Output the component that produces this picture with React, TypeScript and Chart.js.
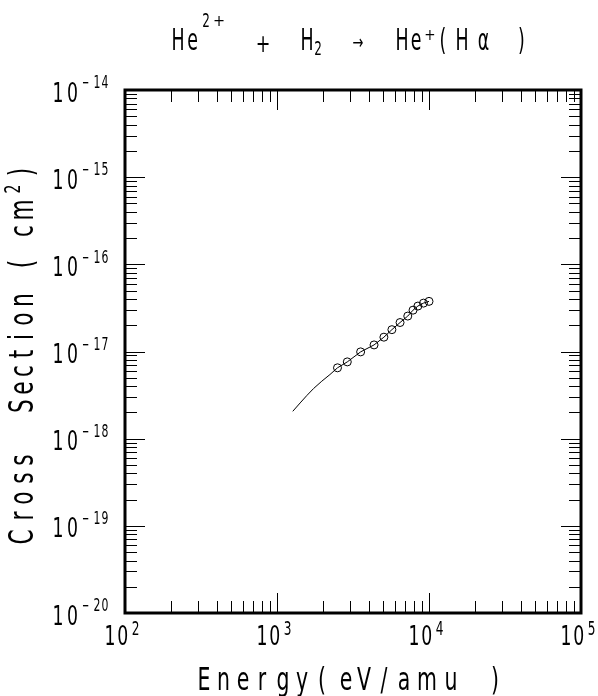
import React, { useEffect, useRef } from "react";
import { Chart, registerables } from "chart.js";

Chart.register(...registerables);

// Fitted curve (energy in eV/amu, cross section in cm^2)
const lineEnergy = [1270, 1420, 1570, 1740, 1970, 2230, 2500, 2900, 3550, 4350, 5050, 5700, 6450, 7250, 7850, 8450, 9200, 10000];
const lineSigma = [2.06e-18, 2.57e-18, 3.12e-18, 3.76e-18, 4.56e-18, 5.44e-18, 6.5e-18, 7.6e-18, 9.9e-18, 1.19e-17, 1.46e-17, 1.78e-17, 2.15e-17, 2.55e-17, 2.98e-17, 3.32e-17, 3.59e-17, 3.76e-17];

// Measured points
const pointEnergy = [2500, 2900, 3550, 4350, 5050, 5700, 6450, 7250, 7850, 8450, 9200, 10000];
const pointSigma = [6.5e-18, 7.6e-18, 9.9e-18, 1.19e-17, 1.46e-17, 1.78e-17, 2.15e-17, 2.55e-17, 2.98e-17, 3.32e-17, 3.59e-17, 3.76e-17];

// Axis decades (tick labels are 10^n)
const xExponents = [2, 3, 4, 5];
const yExponents = [-20, -19, -18, -17, -16, -15, -14];

const titleText = "He2+ + H2 → He+(Hα)";
const xTitle = "Energy ( eV/amu )";
const yTitle = "Cross Section ( cm2 )";

const FF = '"DejaVu Sans", "Liberation Sans", sans-serif';
const FW = "400";
const SX = 0.64;

type G = [string, number, number, number, number?]; // char, center pos, baseline, size, x-scale

function glyph(ctx: CanvasRenderingContext2D, ch: string, x: number, y: number, size: number, sx: number = SX) {
  ctx.save();
  ctx.font = `${FW} ${size}px ${FF}`;
  ctx.translate(x, y);
  ctx.scale(sx, 1);
  ctx.textAlign = "center";
  ctx.textBaseline = "alphabetic";
  ctx.fillText(ch, 0, 0);
  ctx.restore();
}

// layout of title glyphs: [char, centerX, baselineY, size, xscale]
const titleLayout: G[] = [
  ["H", 178, 50, 30, 0.58], ["e", 192.5, 50, 30, 0.58], ["2", 206, 27, 20, 0.6], ["+", 219, 26, 16, 0.9],
  ["+", 263, 52, 25, 0.7], ["H", 307, 50, 30, 0.58], ["2", 318, 55, 20, 0.6], ["→", 358, 49, 20, 0.65],
  ["H", 402, 50, 30, 0.58], ["e", 416, 50, 30, 0.58], ["+", 430, 40, 15, 0.9], ["(", 443, 50, 30, 0.58],
  ["H", 462, 50, 30, 0.58], ["α", 483.5, 50, 30, 0.58], [")", 521.5, 50, 30, 0.58],
];

// x title glyph centers (page x), baseline 690
const xTitleLayout: G[] = [
  ["E", 204, 690, 32], ["n", 223.5, 690, 32], ["e", 243, 690, 32], ["r", 262, 690, 32],
  ["g", 283, 690, 32], ["y", 302, 690, 32], ["(", 322, 690, 32], ["e", 346, 690, 32],
  ["V", 364, 690, 32], ["/", 384, 690, 32], ["a", 404, 690, 32], ["m", 427, 690, 32],
  ["u", 451, 690, 32], [")", 495, 690, 32],
];

// y title glyph centers (page y), baseline offset relative to page x=33 (negative = up)
const yTitleLayout: G[] = [
  ["C", 537, 0, 34], ["r", 516, 0, 34], ["o", 498, 0, 34], ["s", 478, 0, 34], ["s", 460, 0, 34],
  ["S", 406, 0, 34], ["e", 388, 0, 34], ["c", 371, 0, 34], ["t", 354, 0, 34], ["i", 337, 0, 34],
  ["o", 319, 0, 34], ["n", 300, 0, 34], ["(", 264, 0, 34], ["c", 231, 0, 34], ["m", 210, 0, 34],
  ["2", 189, -13, 22], [")", 172, 0, 34],
];

const framePlugin = {
  id: "framePlugin",
  afterDraw(chart: any) {
    const { ctx, chartArea: a, scales } = chart;
    const xs = scales.x;
    const ys = scales.y;
    ctx.save();
    ctx.strokeStyle = "#000";
    ctx.fillStyle = "#000";
    ctx.lineWidth = 1;
    ctx.beginPath();
    for (let d = xExponents[0]; d < xExponents[xExponents.length - 1]; d++) {
      for (let k = 1; k < 10; k++) {
        const px = Math.round(xs.getPixelForValue(k * Math.pow(10, d))) + 0.5;
        const len = k === 1 ? 20 : 12;
        ctx.moveTo(px, a.bottom);
        ctx.lineTo(px, a.bottom - len);
        ctx.moveTo(px, a.top);
        ctx.lineTo(px, a.top + len);
      }
    }
    for (let d = yExponents[0]; d < yExponents[yExponents.length - 1]; d++) {
      for (let k = 1; k < 10; k++) {
        const py = Math.round(ys.getPixelForValue(k * Math.pow(10, d))) + 0.5;
        const len = k === 1 ? 20 : 12;
        ctx.moveTo(a.left, py);
        ctx.lineTo(a.left + len, py);
        ctx.moveTo(a.right, py);
        ctx.lineTo(a.right - len, py);
      }
    }
    ctx.stroke();
    ctx.lineWidth = 3;
    ctx.strokeRect(a.left, a.top, a.right - a.left, a.bottom - a.top);

    // x tick labels
    for (const e of xExponents) {
      const px = xs.getPixelForValue(Math.pow(10, e));
      glyph(ctx, "1", px - 15, 645, 27);
      glyph(ctx, "0", px - 2.3, 645, 27);
      glyph(ctx, String(e), px + 10.5, 635, 19);
    }
    // y tick labels
    for (const e of yExponents) {
      const py = ys.getPixelForValue(Math.pow(10, e));
      const lx = a.left;
      glyph(ctx, "1", lx - 67, py + 11.5, 27);
      glyph(ctx, "0", lx - 52.5, py + 11.5, 27);
      const s = String(Math.abs(e));
      glyph(ctx, "−", lx - 39.5, py - 1.7, 17, 0.5);
      glyph(ctx, s[0], lx - 28, py - 1.7, 17);
      glyph(ctx, s[1], lx - 20, py - 1.7, 17);
    }

    // title
    for (const [c, x, y, s, k] of titleLayout) glyph(ctx, c, x, y, s, k ?? SX);
    // x title
    for (const [c, x, y, s, k] of xTitleLayout) glyph(ctx, c, x, y, s, k ?? SX);
    // y title (rotated)
    ctx.save();
    ctx.translate(33, 0);
    ctx.rotate(-Math.PI / 2);
    for (const [c, y, off, s, k] of yTitleLayout) glyph(ctx, c, -y, off, s, k ?? SX);
    ctx.restore();
    ctx.restore();
  },
};

export default function App() {
  const ref = useRef<HTMLCanvasElement | null>(null);
  useEffect(() => {
    if (!ref.current) return;
    const chart = new Chart(ref.current, {
      type: "scatter",
      data: {
        datasets: [
          {
            label: "fit",
            data: lineEnergy.map((x, i) => ({ x, y: lineSigma[i] })),
            showLine: true,
            borderColor: "#000",
            borderWidth: 1,
            pointRadius: 0,
            fill: false,
          },
          {
            label: "data",
            data: pointEnergy.map((x, i) => ({ x, y: pointSigma[i] })),
            showLine: false,
            borderColor: "#000",
            backgroundColor: "rgba(0,0,0,0)",
            pointRadius: 4,
            pointBorderWidth: 1,
            pointStyle: "circle",
          },
        ],
      },
      options: {
        responsive: false,
        animation: false,
        layout: { padding: { left: 125, right: 17, top: 90, bottom: 83 } },
        plugins: {
          legend: { display: false },
          tooltip: { enabled: false },
          title: { display: false, text: titleText },
        },
        scales: {
          x: { type: "logarithmic", min: 100, max: 100000, display: false, title: { text: xTitle } },
          y: { type: "logarithmic", min: 1e-20, max: 1e-14, display: false, title: { text: yTitle } },
        },
      },
      plugins: [framePlugin],
    });
    return () => chart.destroy();
  }, []);
  return (
    <div style={{ position: "absolute", left: 0, top: 0, width: 598, height: 696, background: "#fff" }}>
      <canvas ref={ref} width={598} height={696} />
    </div>
  );
}
